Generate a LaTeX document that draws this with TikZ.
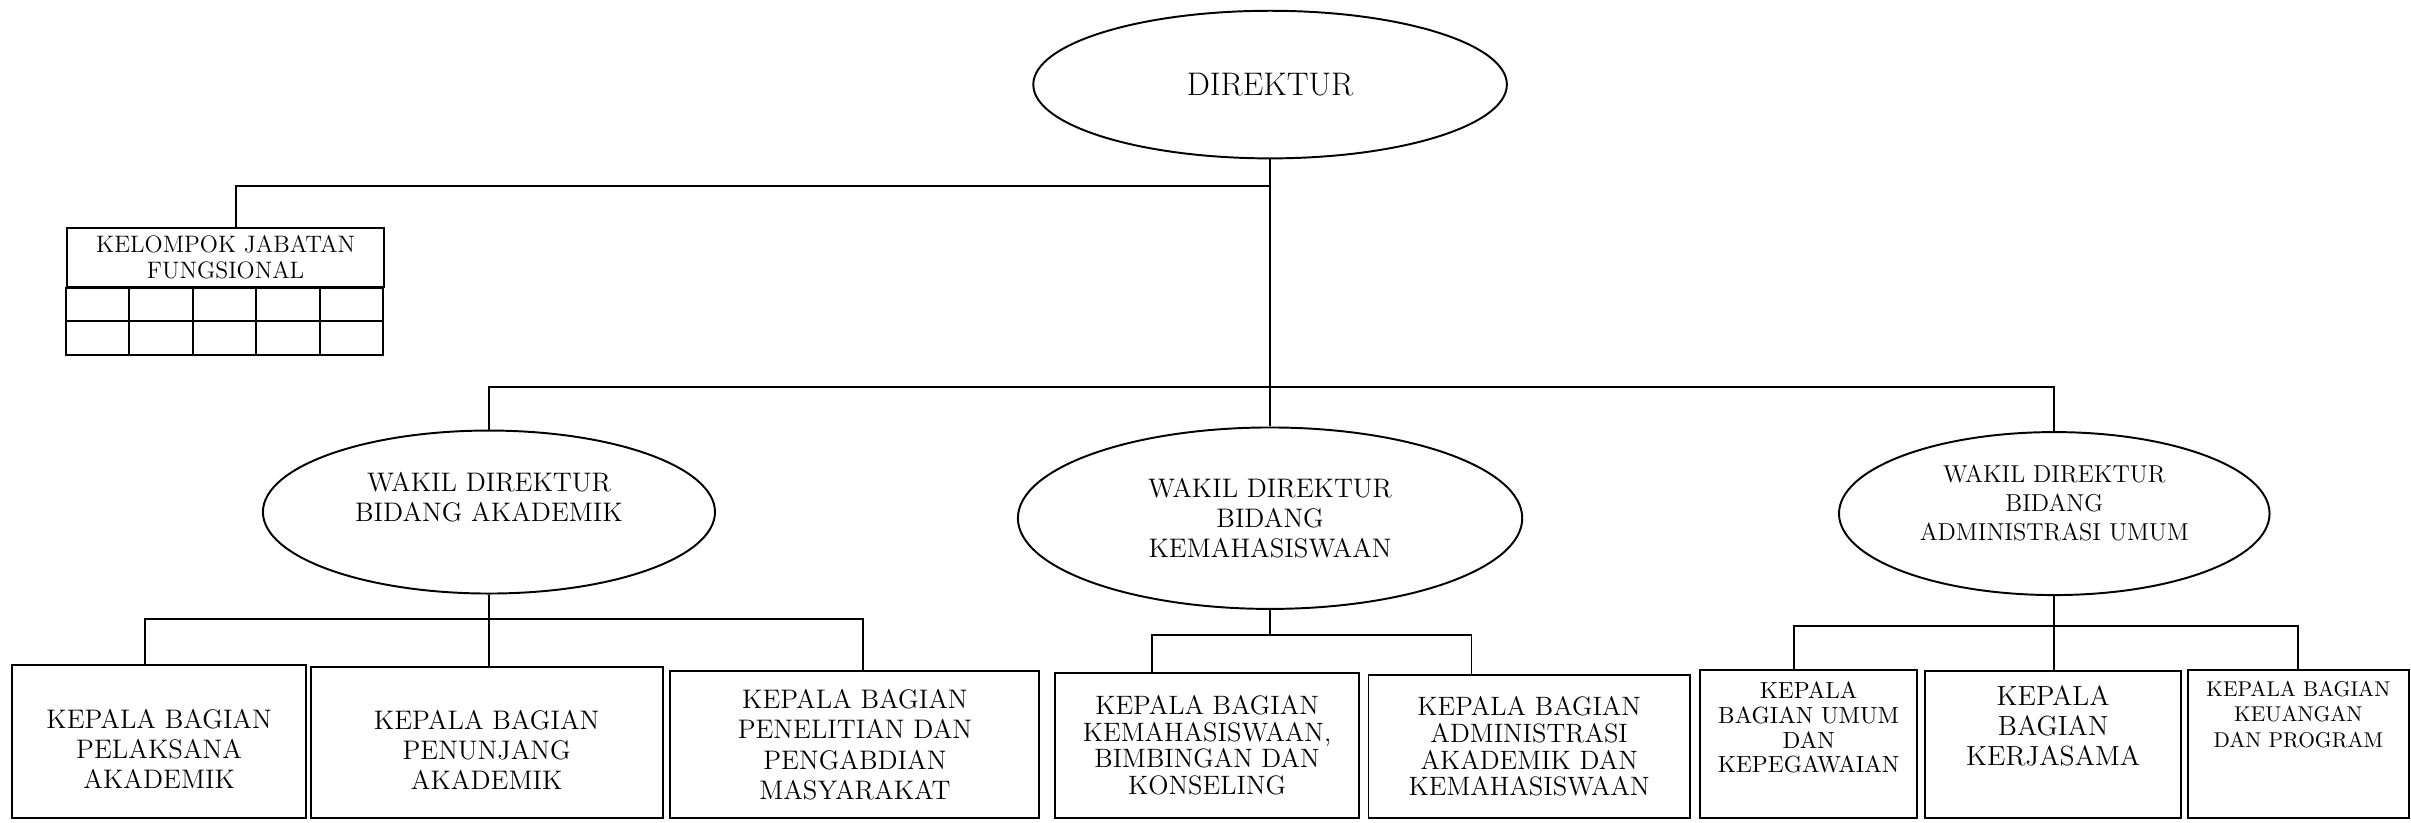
\documentclass[tikz,border=0pt]{standalone}
\usetikzlibrary{shapes.geometric}
\usetikzlibrary{positioning}
\usetikzlibrary{calc}

\def\u{0.025cm}
\newcommand{\padbot}[1]{\\[#1]\mbox{}}
\newcommand{\padtop}[1]{\rule{0pt}{#1}}

\begin{document}
\begin{tikzpicture}[x=0.025cm, y=-0.025cm, line width=0.9pt,
    wakil/.style={draw, ellipse, inner sep=0pt, align=center},
    kepala/.style={draw, rectangle, inner sep=0pt, align=center},
    fbesar/.style={font=\fontsize{12.4}{13.9}\selectfont},
    frapat/.style={font=\fontsize{12.3}{12.3}\selectfont}]

\useasboundingbox (0,0) rectangle (1568,535);

% Direktur
\node[wakil, minimum width=308*\u, minimum height=96*\u,
      font=\fontsize{15.1}{17.7}\selectfont] (dir) at (826,55) {DIREKTUR};

% Kelompok jabatan fungsional
\node[kepala, minimum width=206.5*\u, minimum height=38.5*\u,
      font=\fontsize{11}{11.8}\selectfont] (kjf) at (146.75,167.25)
      {KELOMPOK JABATAN\\FUNGSIONAL};
\foreach \i in {0,...,4}
  \foreach \j in {0,1}
    \draw ($(kjf.south west)+(\i*41.3,\j*21.75)$) rectangle +(41.3,21.75);

% Wakil direktur
\node[wakil, fbesar, minimum width=294*\u, minimum height=106*\u] (wa) at (318,333)
      {WAKIL DIREKTUR\\BIDANG AKADEMIK\padbot{0pt}};
\node[wakil, fbesar, minimum width=328*\u, minimum height=118*\u] (wk) at (826,337)
      {WAKIL DIREKTUR\\BIDANG\\KEMAHASISWAAN};
\node[wakil, minimum width=280*\u, minimum height=106*\u,
      font=\fontsize{11.3}{13.5}\selectfont] (wu) at (1336,334)
      {WAKIL DIREKTUR\\BIDANG\\ADMINISTRASI UMUM\padbot{-3.5pt}};

% Kepala bagian
\node[kepala, fbesar, minimum width=191*\u, minimum height=99.5*\u] (b1) at (103.5,482.25)
      {\padtop{15.6pt}KEPALA BAGIAN\\PELAKSANA\\AKADEMIK};
\node[kepala, fbesar, minimum width=229*\u, minimum height=98.5*\u] (b2) at (316.5,482.75)
      {\padtop{15.6pt}KEPALA BAGIAN\\PENUNJANG\\AKADEMIK};
\node[kepala, font=\fontsize{12.4}{14}\selectfont, minimum width=240*\u, minimum height=95.5*\u] (b3) at (556,484.25)
      {KEPALA BAGIAN\\PENELITIAN DAN\\PENGABDIAN\\MASYARAKAT};
\node[kepala, frapat, minimum width=198*\u, minimum height=94.5*\u] (b4) at (785,484.75)
      {KEPALA BAGIAN\\KEMAHASISWAAN,\\BIMBINGAN DAN\\KONSELING};
\node[kepala, frapat, minimum width=209*\u, minimum height=93*\u] (b5) at (994.5,485.5)
      {KEPALA BAGIAN\\ADMINISTRASI\\AKADEMIK DAN\\KEMAHASISWAAN};
\node[kepala, font=\fontsize{10.8}{11.4}\selectfont, minimum width=141.5*\u, minimum height=96*\u] (b6) at (1176.25,484)
      {KEPALA\\BAGIAN UMUM\\DAN\\KEPEGAWAIAN\padbot{4.2pt}};
\node[kepala, font=\fontsize{12.8}{13.9}\selectfont, minimum width=166.5*\u, minimum height=95.5*\u] (b7) at (1335.25,484.25)
      {KEPALA\\BAGIAN\\KERJASAMA\padbot{3.9pt}};
\node[kepala, font=\fontsize{9.9}{11.9}\selectfont, minimum width=143.5*\u, minimum height=96*\u] (b8) at (1494.75,484)
      {KEPALA BAGIAN\\KEUANGAN\\DAN PROGRAM\padbot{15.8pt}};

% Garis direktur
\coordinate (busK) at (826,121);
\coordinate (busW) at (826,251.5);
\draw (dir) -- (wk);
\draw ($(kjf.north)+(7,0)$) |- (busK);
\draw (wa.north) -- (wa.north |- busW) -- (wu.north |- busW) -- (wu.north);

% Garis wakil akademik
\coordinate (busA) at (318,402.5);
\draw (wa.south) -- (busA);
\draw ($(b1.north)+(-9.5,0)$) |- (busA) -| ($(b3.north)+(5,0)$);
\draw (b2.north -| busA) -- (busA);

% Garis wakil kemahasiswaan
\coordinate (busB) at (826,413);
\draw (wk.south) -- (busB);
\draw ($(b4.north)+(-36,0)$) |- (busB) -| ($(b5.north)+(-37.5,0)$);

% Garis wakil administrasi umum
\coordinate (busC) at (1336,407);
\draw (wu.south) -- (busC);
\draw ($(b6.north)+(-9.25,0)$) |- (busC) -| (b8.north);
\draw (b7.north -| busC) -- (busC);

\end{tikzpicture}
\end{document}
